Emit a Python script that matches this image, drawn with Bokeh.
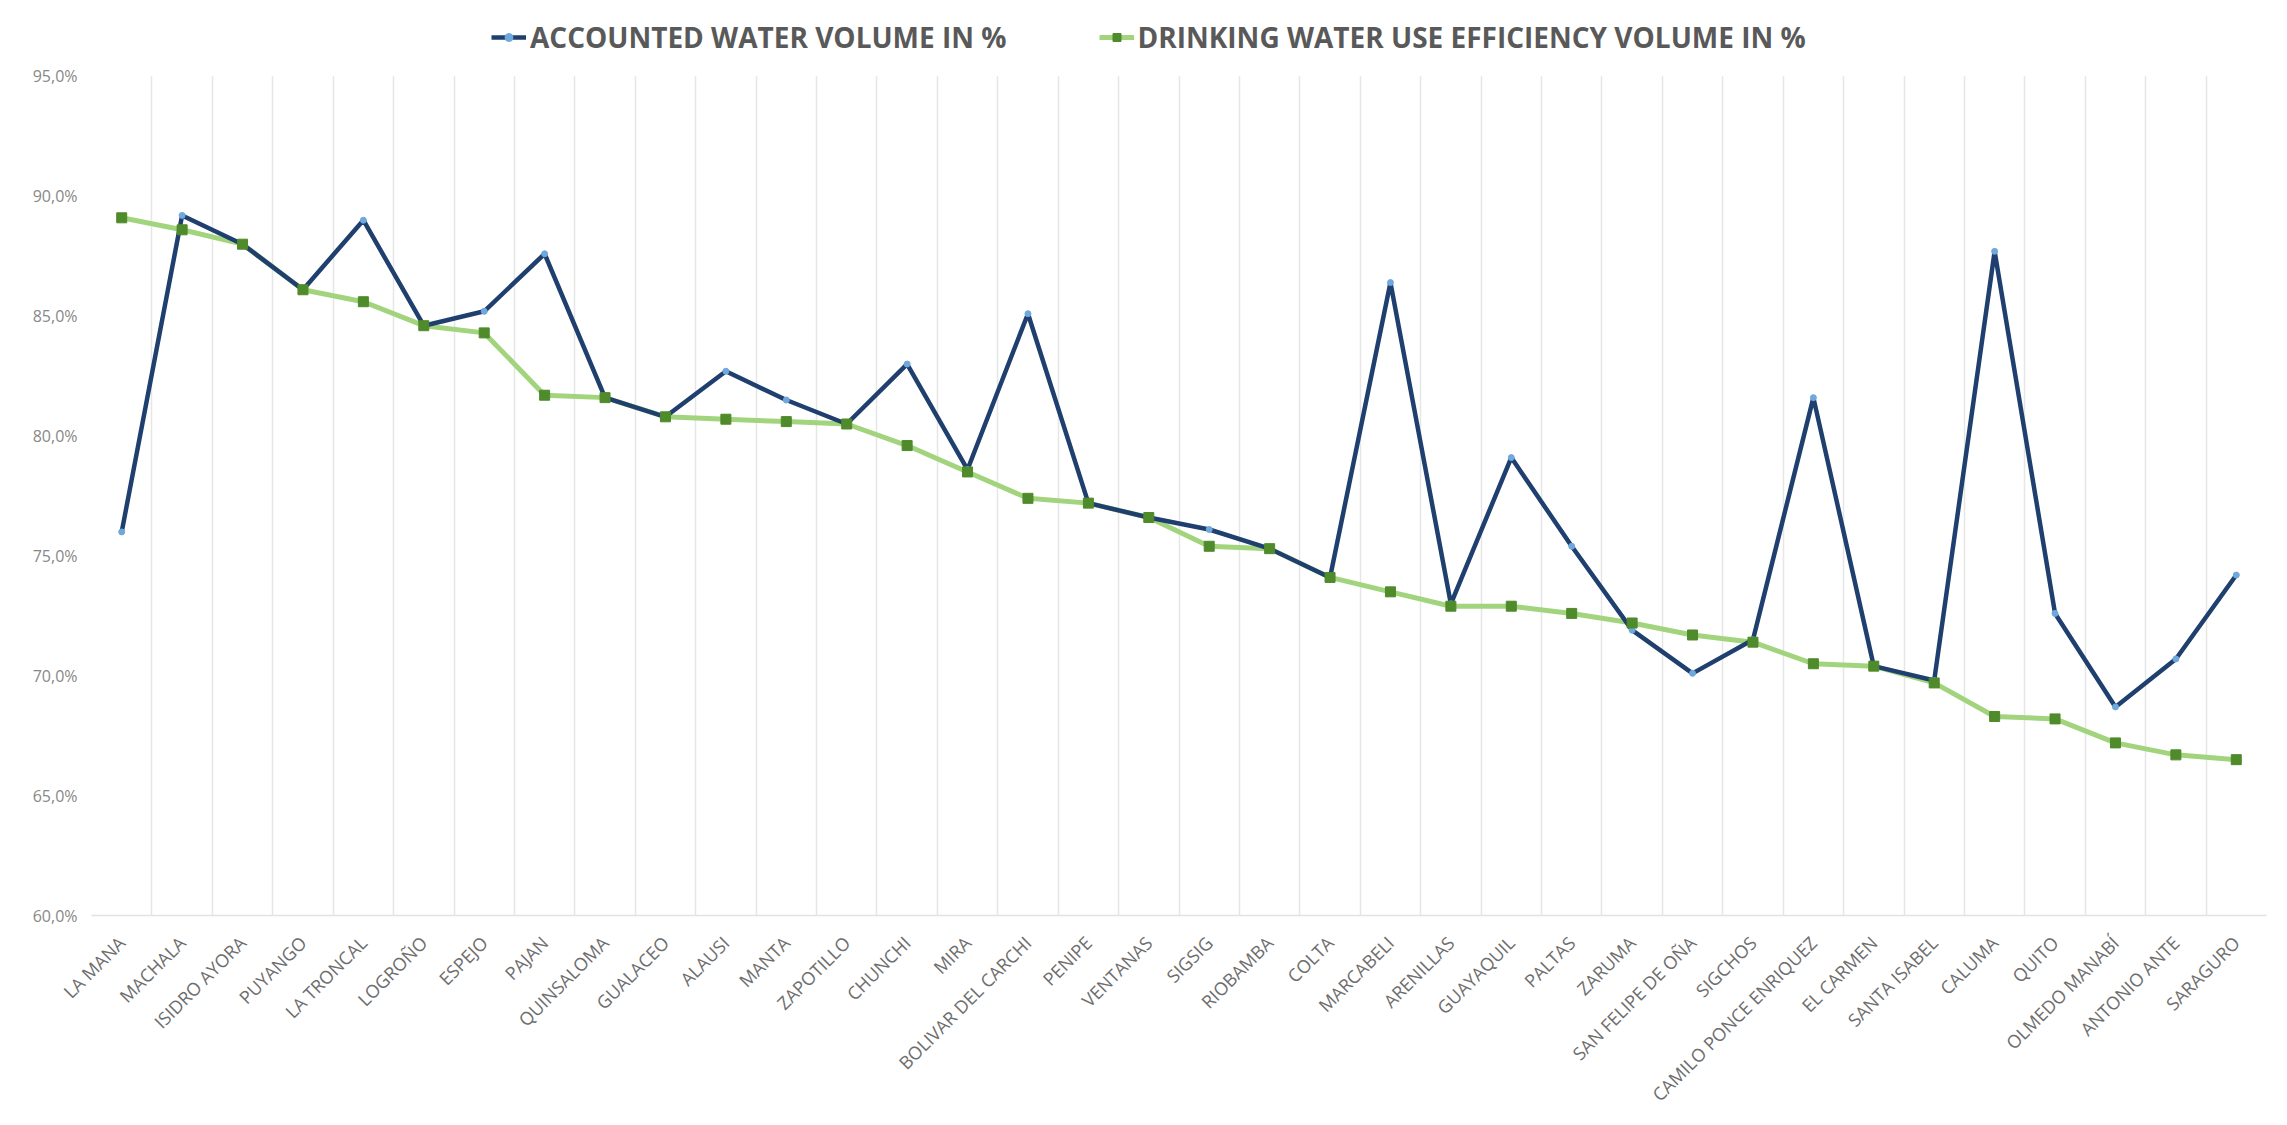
import math
from bokeh.plotting import figure
from bokeh.models import FixedTicker, Legend, LegendItem, BoxAnnotation
from bokeh.embed import file_html
from bokeh.resources import INLINE

municipalities = ["LA MANA", "MACHALA", "ISIDRO AYORA", "PUYANGO", "LA TRONCAL", "LOGROÑO",
                  "ESPEJO", "PAJAN", "QUINSALOMA", "GUALACEO", "ALAUSI", "MANTA", "ZAPOTILLO",
                  "CHUNCHI", "MIRA", "BOLIVAR DEL CARCHI", "PENIPE", "VENTANAS", "SIGSIG",
                  "RIOBAMBA", "COLTA", "MARCABELI", "ARENILLAS", "GUAYAQUIL", "PALTAS", "ZARUMA",
                  "SAN FELIPE DE OÑA", "SIGCHOS", "CAMILO PONCE ENRIQUEZ", "EL CARMEN",
                  "SANTA ISABEL", "CALUMA", "QUITO", "OLMEDO MANABÍ", "ANTONIO ANTE", "SARAGURO"]

accounted = [76.0, 89.2, 88.0, 86.1, 89.0, 84.6, 85.2, 87.6, 81.6, 80.8, 82.7, 81.5,
             80.5, 83.0, 78.6, 85.1, 77.2, 76.6, 76.1, 75.3, 74.1, 86.4, 73.0, 79.1,
             75.4, 71.9, 70.1, 71.5, 81.6, 70.4, 69.8, 87.7, 72.6, 68.7, 70.7, 74.2]

efficiency = [89.1, 88.6, 88.0, 86.1, 85.6, 84.6, 84.3, 81.7, 81.6, 80.8, 80.7, 80.6,
              80.5, 79.6, 78.5, 77.4, 77.2, 76.6, 75.4, 75.3, 74.1, 73.5, 72.9, 72.9,
              72.6, 72.2, 71.7, 71.4, 70.5, 70.4, 69.7, 68.3, 68.2, 67.2, 66.7, 66.5]

y_ticks = [60, 65, 70, 75, 80, 85, 90, 95]
series_names = ["ACCOUNTED WATER VOLUME IN %", "DRINKING WATER USE EFFICIENCY VOLUME IN %"]

xs = list(range(len(municipalities)))

# axis spans 60..95 %; the frame is extended upward to host the legend strip
Y_MIN, Y_MAX, Y_TOP = 60, 95, 97.83

p = figure(width=2279, height=1117,
           x_range=(-0.5, len(municipalities) - 0.5), y_range=(Y_MIN, Y_TOP),
           output_backend="svg", toolbar_location=None,
           min_border_left=91, min_border_right=13, min_border_top=8, min_border_bottom=199)
p.title.visible = False
p.outline_line_color = None
p.background_fill_color = "white"
p.border_fill_color = "white"

# grid: vertical lines at category boundaries
p.xgrid.ticker = FixedTicker(ticks=[i - 0.5 for i in range(len(municipalities) + 1)])
p.xgrid.grid_line_color = "#e6e6e6"
p.xgrid.grid_line_width = 1.5
p.ygrid.grid_line_color = None

# white strip above the value axis (legend area) hides the grid there
p.add_layout(BoxAnnotation(bottom=Y_MAX, fill_color="white", fill_alpha=1,
                           line_color=None, level="underlay"))

# x axis
p.xaxis.ticker = FixedTicker(ticks=xs)
p.xaxis.major_label_overrides = {i: m for i, m in enumerate(municipalities)}
p.xaxis.major_label_orientation = math.pi / 4
p.xaxis.major_label_text_font = "Open Sans"
p.xaxis.major_label_text_font_size = "18px"
p.xaxis.major_label_text_color = "#6e6e6e"
p.xaxis.axis_line_color = "#e3e3e3"
p.xaxis.axis_line_width = 1.5
p.xaxis.major_tick_line_color = None
p.xaxis.minor_tick_line_color = None
p.xaxis.major_label_standoff = 18

# y axis
p.yaxis.ticker = FixedTicker(ticks=y_ticks)
p.yaxis.major_label_overrides = {t: f"{t:.1f}%".replace(".", ",") for t in y_ticks}
p.yaxis.major_label_text_font = "Open Sans"
p.yaxis.major_label_text_font_size = "16px"
p.yaxis.major_label_text_color = "#888888"
p.yaxis.axis_line_color = None
p.yaxis.major_tick_line_color = None
p.yaxis.minor_tick_line_color = None
p.yaxis.major_label_standoff = 8

# series
g_line = p.line(xs, efficiency, line_color="#a2d47e", line_width=5)
b_line = p.line(xs, accounted, line_color="#1f3f6e", line_width=4.5)
b_pts = p.scatter(xs, accounted, marker="circle", size=6, fill_color="#6fa8dc",
                  line_color="#6fa8dc")
g_pts = p.scatter(xs, efficiency, marker="square", size=10, fill_color="#4f8a2b",
                  line_color="#4f8a2b")

legend = Legend(items=[LegendItem(label=series_names[0], renderers=[b_line, b_pts]),
                       LegendItem(label=series_names[1], renderers=[g_line, g_pts])],
                orientation="horizontal", location=(400, 859))
legend.label_text_font = "Open Sans"
legend.label_text_font_style = "bold"
legend.label_text_font_size = "28px"
legend.label_text_color = "#595959"
legend.label_height = 38
legend.glyph_width = 35
legend.glyph_height = 20
legend.label_standoff = 4
legend.spacing = 92
legend.padding = 0
legend.margin = 0
legend.border_line_color = None
legend.background_fill_alpha = 0
p.add_layout(legend, "center")

open("out.html", "w").write(file_html(p, INLINE))
